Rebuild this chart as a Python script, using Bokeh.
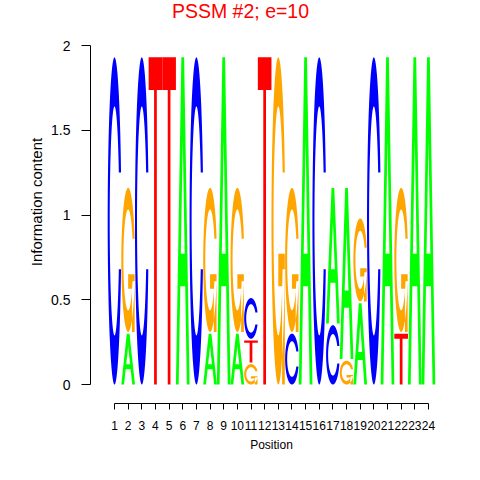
import numpy as np
from bokeh.plotting import figure
from bokeh.models import ColumnDataSource, Range1d, FixedTicker, Label
from bokeh.embed import file_html
from bokeh.resources import INLINE

# ---- data ----
positions = list(range(1, 25))
height_A = [0.00, 0.30, 0.00, 0.00, 0.00, 1.93, 0.00, 0.30, 1.93, 0.30, 0.00, 0.00,
            0.00, 0.00, 1.93, 0.00, 0.80, 1.01, 0.48, 0.00, 1.93, 0.00, 1.93, 1.93]
height_C = [1.93, 0.00, 1.93, 0.00, 0.00, 0.00, 1.93, 0.00, 0.00, 0.00, 0.24, 0.00,
            0.00, 0.30, 0.00, 1.93, 0.35, 0.00, 0.00, 1.93, 0.00, 0.00, 0.00, 0.00]
height_G = [0.00, 0.85, 0.00, 0.00, 0.00, 0.00, 0.00, 0.85, 0.00, 0.85, 0.12, 0.00,
            1.93, 0.85, 0.00, 0.00, 0.00, 0.14, 0.49, 0.00, 0.00, 0.85, 0.00, 0.00]
height_T = [0.00, 0.00, 0.00, 1.93, 1.93, 0.00, 0.00, 0.00, 0.00, 0.00, 0.13, 1.93,
            0.00, 0.00, 0.00, 0.00, 0.00, 0.00, 0.00, 0.00, 0.00, 0.30, 0.00, 0.00]
letters = ["A", "C", "G", "T"]
letter_colors = {"A": "#00FF00", "C": "#0000FF", "G": "#FFA500", "T": "#FF0000"}
y_ticks = [0, 0.5, 1, 1.5, 2]
y_tick_labels = ["0", "0.5", "1", "1.5", "2"]
title_text = "PSSM #2; e=10"
x_label = "Position"
y_label = "Information content"


# ---- letter outlines in a unit box (seqLogo style) ----
def ring_c():
    a1 = np.linspace(0.3 + np.pi / 2, np.pi, 100)
    a2 = np.linspace(np.pi, 1.5 * np.pi, 100)
    xl = np.concatenate([0.5 + 0.5 * np.sin(a1), 0.5 + 0.5 * np.sin(a2)])
    yl = np.concatenate([0.5 + 0.5 * np.cos(a1), 0.5 + 0.5 * np.cos(a2)])
    x = np.concatenate([xl, xl[::-1]])
    y = np.concatenate([yl, 1 - yl[::-1]])
    ymax = (0.5 + 0.5 * np.cos(a1)).max()
    xi1 = 0.5 + 0.35 * np.sin(a1)
    yi1 = 0.5 + 0.35 * np.cos(a1)
    m = yi1 <= ymax
    xi1 = xi1[m]
    yi1 = yi1[m].copy()
    yi1[0] = ymax
    xi = np.concatenate([xi1, 0.5 + 0.35 * np.sin(a2)])
    yi = np.concatenate([yi1, 0.5 + 0.35 * np.cos(a2)])
    x1 = np.concatenate([xi, xi[::-1]])
    y1 = np.concatenate([yi, 1 - yi[::-1]])
    return np.concatenate([x, x1[::-1]]), np.concatenate([y, y1[::-1]])


def unit_shape(letter):
    if letter == "A":
        return [[(np.array([0, 0.4, 0.6, 1, 0.8, 0.68, 0.32, 0.2]),
                  np.array([0, 1, 1, 0, 0, 0.3, 0.3, 0])),
                 (np.array([0.36, 0.5, 0.64]), np.array([0.4, 0.75, 0.4]))]]
    if letter == "T":
        return [[(np.array([0, 1, 1, 0.6, 0.6, 0.4, 0.4, 0]),
                  np.array([1, 1, 0.9, 0.9, 0, 0, 0.9, 0.9]))]]
    cx, cy = ring_c()
    if letter == "C":
        return [[(cx, cy)]]
    r1 = 0.5 + 0.5 * np.cos(0.3)
    h1 = 0.4
    bar = (np.array([r1, 0.5, 0.5, r1 - 0.2, r1 - 0.2, r1]),
           np.array([h1, h1, h1 - 0.1, h1 - 0.1, 0, 0]))
    return [[(cx, cy)], [bar]]


heights = {"A": height_A, "C": height_C, "G": height_G, "T": height_T}
xs, ys, cols = [], [], []
for j, pos in enumerate(positions):
    col = sorted([(heights[L][j], k, L) for k, L in enumerate(letters)])
    base = 0.0
    for h, _, L in col:
        if h <= 0:
            continue
        polys_x, polys_y = [], []
        for poly in unit_shape(L):
            polys_x.append([list(pos - 0.5 + rx) for rx, ry in poly])
            polys_y.append([list(base + ry * h) for rx, ry in poly])
        xs.append(polys_x)
        ys.append(polys_y)
        cols.append(letter_colors[L])
        base += h + 0.01

src = ColumnDataSource(dict(xs=xs, ys=ys, color=cols))

px_x = 13.65
px_y = 169.5
W, H = 472, 472
bl, br, bt, bb = 90, 20, 0, 69
x0 = 1 - 24 / px_x
x1 = x0 + (W - bl - br) / px_x
y0 = -19 / px_y
y1 = y0 + (H - bt - bb) / px_y

p = figure(width=W, height=H, x_range=Range1d(x0, x1), y_range=Range1d(y0, y1),
           output_backend="svg", toolbar_location=None,
           min_border_left=bl, min_border_right=br, min_border_top=bt, min_border_bottom=bb)
p.multi_polygons(xs="xs", ys="ys", source=src, fill_color="color", line_color=None)

frame_h = H - bt - bb
title = Label(x=240 - bl, y=frame_h - 10, x_units="screen", y_units="screen",
              text=title_text, text_align="center", text_baseline="alphabetic",
              text_color="#FF0000", text_font="Liberation Sans",
              text_font_size="19.5px")
p.add_layout(title)

p.outline_line_color = None
p.xgrid.grid_line_color = None
p.ygrid.grid_line_color = None

for ax in (p.xaxis[0], p.yaxis[0]):
    ax.axis_line_color = "black"
    ax.major_tick_line_color = "black"
    ax.minor_tick_line_color = None
    ax.major_tick_in = 0
    ax.major_label_text_font = "Liberation Sans"
    ax.axis_label_text_font = "Liberation Sans"
    ax.axis_label_text_font_style = "normal"
    ax.major_label_text_color = "black"
    ax.axis_label_text_color = "black"

xa = p.xaxis[0]
xa.ticker = FixedTicker(ticks=positions)
xa.bounds = (1, 24)
xa.major_tick_out = 6
xa.major_label_text_font_size = "12px"
xa.major_label_standoff = 11
xa.axis_label = x_label
xa.axis_label_text_font_size = "12px"
xa.axis_label_standoff = 5

ya = p.yaxis[0]
ya.ticker = FixedTicker(ticks=y_ticks)
ya.bounds = (0, 2)
ya.major_tick_out = 9
ya.major_label_text_font_size = "14px"
ya.major_label_standoff = 11
ya.major_label_overrides = {t: s for t, s in zip(y_ticks, y_tick_labels)}
ya.axis_label = y_label
ya.axis_label_text_font_size = "15px"
ya.axis_label_standoff = 3

open("out.html", "w").write(file_html(p, INLINE))
